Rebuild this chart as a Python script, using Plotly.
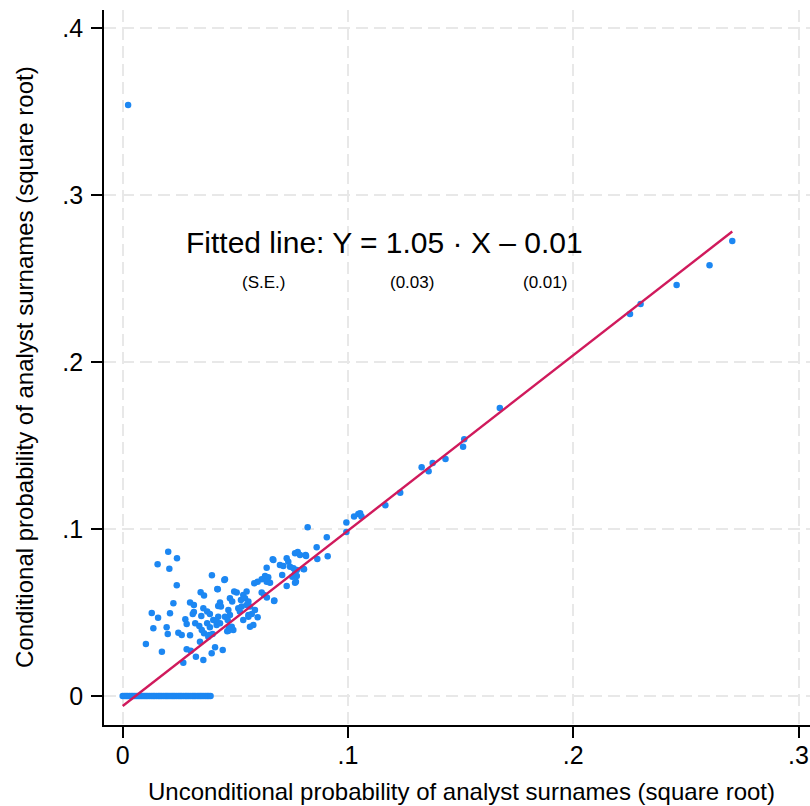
import plotly.graph_objects as go

# ---- data ----
zero_x = [0.0000, 0.0008, 0.0015, 0.0022, 0.0030, 0.0038, 0.0045, 0.0052, 0.0060, 0.0068,
          0.0075, 0.0082, 0.0090, 0.0098, 0.0105, 0.0112, 0.0120, 0.0128, 0.0135, 0.0142,
          0.0150, 0.0158, 0.0165, 0.0172, 0.0180, 0.0188, 0.0195, 0.0202, 0.0210, 0.0218,
          0.0225, 0.0232, 0.0240, 0.0248, 0.0255, 0.0262, 0.0270, 0.0278, 0.0285, 0.0292,
          0.0300, 0.0308, 0.0315, 0.0322, 0.0330, 0.0338, 0.0345, 0.0352, 0.0360, 0.0368,
          0.0375, 0.0382, 0.0390]
zero_y = [0.0] * len(zero_x)

cluster_x = [0.0202, 0.0241, 0.0155, 0.0207, 0.0240, 0.0396, 0.0346, 0.0361, 0.0420, 0.0225,
             0.0299, 0.0316, 0.0129, 0.0157, 0.0210, 0.0316, 0.0358, 0.0375, 0.0387, 0.0349,
             0.0278, 0.0424, 0.0432, 0.0136, 0.0195, 0.0200, 0.0103, 0.0174, 0.0247, 0.0262,
             0.0299, 0.0284, 0.0322, 0.0340, 0.0351, 0.0361, 0.0375, 0.0387, 0.0402, 0.0417,
             0.0380, 0.0399, 0.0343, 0.0284, 0.0302, 0.0269, 0.0325, 0.0358, 0.0395, 0.0410,
             0.0311, 0.0444, 0.0384, 0.0464,
             0.0861, 0.0765, 0.0777, 0.0787, 0.0812, 0.0728, 0.0735, 0.0666, 0.0698, 0.0713,
             0.0743, 0.0758, 0.0773, 0.0802, 0.0765, 0.0773, 0.0753, 0.0708, 0.0639, 0.0632,
             0.0646, 0.0617, 0.0599, 0.0584, 0.0728, 0.0765, 0.0639, 0.0654, 0.0617, 0.0628,
             0.0673, 0.0550, 0.0535, 0.0495, 0.0506, 0.0454, 0.0422, 0.0476, 0.0486, 0.0525,
             0.0543, 0.0558, 0.0528, 0.0550, 0.0565, 0.0587, 0.0573, 0.0558, 0.0436, 0.0469,
             0.0476, 0.0454, 0.0513, 0.0520, 0.0424, 0.0417, 0.0432, 0.0466, 0.0472, 0.0599,
             0.0580, 0.0565, 0.0484, 0.0491, 0.0469, 0.0451,
             0.0821, 0.0993, 0.1027, 0.1046, 0.1054, 0.0993, 0.0906, 0.0910, 0.0864, 0.0814,
             0.0805, 0.0669, 0.0769, 0.0535, 0.0558, 0.0672, 0.0640, 0.1060,
             0.1166, 0.1232, 0.1327, 0.1358, 0.1376, 0.1433, 0.1511, 0.1516, 0.1674, 0.2252,
             0.2299, 0.2459, 0.2605, 0.2706,
             0.0024]
cluster_y = [0.0864, 0.0824, 0.0789, 0.0762, 0.0663, 0.0723, 0.0621, 0.0601, 0.0641, 0.0555,
             0.0559, 0.0545, 0.0497, 0.0469, 0.0495, 0.0503, 0.0525, 0.0505, 0.0491, 0.0479,
             0.0459, 0.0539, 0.0559, 0.0405, 0.0411, 0.0371, 0.0311, 0.0265, 0.0379, 0.0365,
             0.0363, 0.0431, 0.0435, 0.0419, 0.0395, 0.0375, 0.0435, 0.0411, 0.0455, 0.0425,
             0.0355, 0.0371, 0.0325, 0.0280, 0.0271, 0.0199, 0.0235, 0.0216, 0.0256, 0.0292,
             0.0491, 0.0275, 0.0365, 0.0387,
             0.0890, 0.0854, 0.0862, 0.0844, 0.0844, 0.0825, 0.0804, 0.0819, 0.0784, 0.0778,
             0.0774, 0.0765, 0.0754, 0.0760, 0.0735, 0.0719, 0.0714, 0.0725, 0.0768, 0.0719,
             0.0711, 0.0699, 0.0684, 0.0675, 0.0659, 0.0678, 0.0684, 0.0678, 0.0619, 0.0605,
             0.0571, 0.0625, 0.0605, 0.0625, 0.0619, 0.0699, 0.0639, 0.0585, 0.0565, 0.0575,
             0.0585, 0.0565, 0.0535, 0.0545, 0.0535, 0.0515, 0.0491, 0.0485, 0.0535, 0.0515,
             0.0485, 0.0475, 0.0525, 0.0505, 0.0475, 0.0445, 0.0435, 0.0455, 0.0411, 0.0471,
             0.0425, 0.0415, 0.0415, 0.0395, 0.0391, 0.0695,
             0.1010, 0.1038, 0.1074, 0.1090, 0.1094, 0.0982, 0.0950, 0.0836, 0.0820, 0.0838,
             0.0759, 0.0814, 0.0684, 0.0455, 0.0475, 0.0569, 0.0590, 0.1075,
             0.1142, 0.1217, 0.1369, 0.1345, 0.1395, 0.1419, 0.1493, 0.1537, 0.1725, 0.2287,
             0.2347, 0.2461, 0.2579, 0.2725,
             0.3539]

fit_slope = 1.05
fit_intercept = -0.006

tick_vals_x = [0, 0.1, 0.2, 0.3]
tick_text_x = ["0", ".1", ".2", ".3"]
tick_vals_y = [0, 0.1, 0.2, 0.3, 0.4]
tick_text_y = ["0", ".1", ".2", ".3", ".4"]

x_title = "Unconditional probability of analyst surnames (square root)"
y_title = "Conditional probability of analyst surnames (square root)"
fit_label = "Fitted line: Y = 1.05 · X – 0.01"
se_labels = ["(S.E.)", "(0.03)", "(0.01)"]

# ---- figure ----
all_x = zero_x + cluster_x
all_y = zero_y + cluster_y
x_min, x_max = min(all_x), max(all_x)

FONT = "Liberation Sans, Arial, Helvetica, sans-serif"
DOT = "#1C87F2"
LINE = "#D01A5C"

fig = go.Figure()
fig.add_trace(go.Scatter(x=all_x, y=all_y, mode="markers",
                         marker=dict(color=DOT, size=6.5, line=dict(width=0)),
                         showlegend=False, hoverinfo="skip"))
fig.add_trace(go.Scatter(x=[x_min, x_max],
                         y=[fit_slope * x_min + fit_intercept, fit_slope * x_max + fit_intercept],
                         mode="lines", line=dict(color=LINE, width=2.4),
                         showlegend=False, hoverinfo="skip"))

L, R, T, B = 104, 0, 10, 81
W, H = 810, 806
pw, ph = W - L - R, H - T - B

def px_x(p):
    return (p - L) / pw

def px_y(p):
    return (H - B - p) / ph

annotations = [
    dict(text=fit_label, x=px_x(384), y=px_y(242), xref="paper", yref="paper",
         showarrow=False, font=dict(size=30, color="black", family=FONT),
         xanchor="center", yanchor="middle"),
    dict(text=x_title, x=px_x(462), y=px_y(791), xref="paper", yref="paper",
         showarrow=False, font=dict(size=24, color="black", family=FONT),
         xanchor="center", yanchor="middle"),
    dict(text=y_title, x=px_x(24), y=px_y(367), xref="paper", yref="paper",
         showarrow=False, textangle=-90, font=dict(size=24, color="black", family=FONT),
         xanchor="center", yanchor="middle"),
]
for lbl, cx in zip(se_labels, [263, 412, 545]):
    annotations.append(dict(text=lbl, x=px_x(cx), y=px_y(282), xref="paper", yref="paper",
                            showarrow=False, font=dict(size=17, color="black", family=FONT),
                            xanchor="center", yanchor="middle"))

fig.update_layout(
    width=W, height=H,
    margin=dict(l=L, r=R, t=T, b=B, pad=0),
    plot_bgcolor="white", paper_bgcolor="white",
    font=dict(family=FONT, color="black"),
    annotations=annotations,
)
axis_common = dict(showline=True, linecolor="black", linewidth=1.8,
                   ticks="outside", ticklen=11, tickwidth=1.8, tickcolor="black",
                   tickfont=dict(size=25, family=FONT, color="black"),
                   showgrid=True, gridcolor="#E8E8E8", gridwidth=2, griddash="12px,6px",
                   zeroline=False)
fig.update_xaxes(range=[-0.0083, 0.3051], tickvals=tick_vals_x, ticktext=tick_text_x,
                 ticklabelstandoff=-4, **axis_common)
fig.update_yaxes(range=[-0.0174, 0.4108], tickvals=tick_vals_y, ticktext=tick_text_y,
                 ticklabelstandoff=3, **axis_common)

fig.write_html("out.html", config={"displayModeBar": False},
               post_script="document.body.style.margin='0';")
